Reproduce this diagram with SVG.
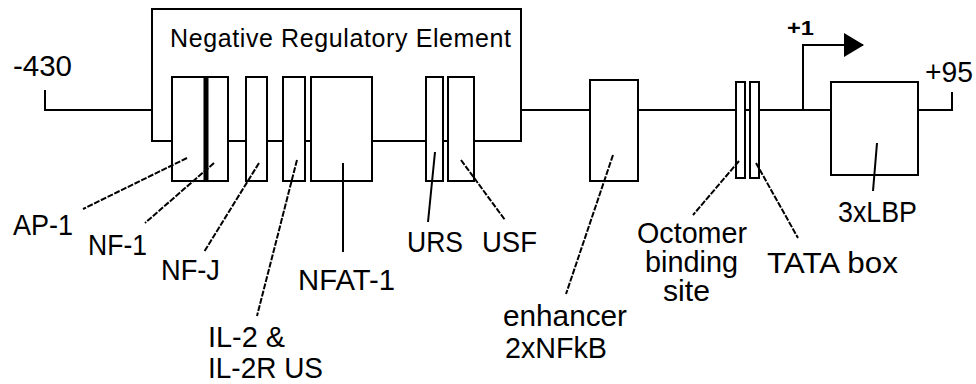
<svg xmlns="http://www.w3.org/2000/svg" width="976" height="384" viewBox="0 0 976 384">
<style>
.ln{fill:none;stroke:#000;stroke-width:2}
.bx{fill:#fff;stroke:#000;stroke-width:2}
.ld{fill:none;stroke:#000;stroke-width:2;stroke-dasharray:6 1.5}
.ls{fill:none;stroke:#000;stroke-width:2}
.t{font-family:"Liberation Sans",Arial,sans-serif;font-size:29px;fill:#000}
.h{font-family:"Liberation Sans",Arial,sans-serif;font-size:25px;fill:#000}
</style>
<defs>
<marker id="ah" markerWidth="20" markerHeight="24" refX="19" refY="12" orient="auto" markerUnits="userSpaceOnUse">
<path d="M0,0 L20,12 L0,24 Z" fill="#000"/>
</marker>
</defs>
<rect width="976" height="384" fill="#fff"/>
<g id="dna">
<path class="ln" d="M45,90 V110 H152"/>
<path class="ln" d="M172,141 H152 V9 H521 V141 H474"/>
<path class="ln" d="M228,141 H246 M267,141 H283 M305,141 H311 M372,141 H426 M443,141 H448"/>
<path class="ln" d="M521,110 H590 M638,110 H736 M745,110 H749 M759,110 H831 M918,110 H952 V92"/>
</g>
<g id="nre-label"><text class="h" x="170" y="47" textLength="341" lengthAdjust="spacing">Negative Regulatory Element</text></g>
<g id="start-label"><text class="t" x="13" y="76" textLength="59" lengthAdjust="spacingAndGlyphs">-430</text></g>
<g id="end-label"><text class="t" x="925" y="82" textLength="48" lengthAdjust="spacingAndGlyphs">+95</text></g>
<g id="tss">
<path class="ln" d="M803,110 V45 H863" marker-end="url(#ah)"/>
<text class="t" x="787" y="35" style="font-size:21px;font-weight:bold" textLength="27" lengthAdjust="spacingAndGlyphs">+1</text>
</g>
<g id="ap1-nf1">
<rect class="bx" x="172" y="77" width="56" height="104"/>
<rect x="203.5" y="77" width="5" height="104" fill="#000"/>
</g>
<g id="nfj"><rect class="bx" x="246" y="77" width="21" height="104"/></g>
<g id="il2"><rect class="bx" x="283" y="77" width="22" height="104"/></g>
<g id="nfat"><rect class="bx" x="311" y="77" width="61" height="104"/></g>
<g id="urs"><rect class="bx" x="426" y="77" width="17" height="104"/></g>
<g id="usf"><rect class="bx" x="448" y="77" width="26" height="104"/></g>
<g id="enhancer"><rect class="bx" x="590" y="80" width="48" height="101"/></g>
<g id="octomer"><rect class="bx" x="736" y="82" width="9" height="96"/></g>
<g id="tata"><rect class="bx" x="750" y="82" width="9" height="96"/></g>
<g id="lbp"><rect class="bx" x="831" y="82" width="87" height="93"/></g>
<g id="connectors">
<line class="ld" x1="187" y1="158" x2="83" y2="209"/>
<line class="ld" x1="214" y1="163" x2="145" y2="223"/>
<line class="ld" x1="259" y1="163" x2="204" y2="252"/>
<line class="ld" x1="297" y1="160" x2="257" y2="316"/>
<line class="ls" x1="343" y1="163" x2="343" y2="252"/>
<line class="ls" x1="435" y1="152" x2="428" y2="222"/>
<line class="ld" x1="461" y1="160" x2="505" y2="220"/>
<line class="ld" x1="613" y1="155" x2="566" y2="294"/>
<line class="ld" x1="739" y1="161" x2="693" y2="215"/>
<line class="ld" x1="756" y1="163" x2="798" y2="238"/>
<line class="ls" x1="877" y1="143" x2="873" y2="191"/>
</g>
<g id="labels">
<text class="t" x="13" y="235" textLength="60" lengthAdjust="spacingAndGlyphs">AP-1</text>
<text class="t" x="88" y="255" textLength="59" lengthAdjust="spacingAndGlyphs">NF-1</text>
<text class="t" x="161" y="280" textLength="59" lengthAdjust="spacingAndGlyphs">NF-J</text>
<text class="t" x="298" y="290" textLength="97" lengthAdjust="spacingAndGlyphs">NFAT-1</text>
<text class="t" x="208" y="347" textLength="77" lengthAdjust="spacingAndGlyphs">IL-2 &amp;</text>
<text class="t" x="208" y="378" textLength="115" lengthAdjust="spacingAndGlyphs">IL-2R US</text>
<text class="t" x="407" y="252" textLength="56" lengthAdjust="spacingAndGlyphs">URS</text>
<text class="t" x="482" y="252" textLength="55" lengthAdjust="spacingAndGlyphs">USF</text>
<text class="t" x="503" y="326" textLength="124" lengthAdjust="spacingAndGlyphs">enhancer</text>
<text class="t" x="505" y="358" textLength="102" lengthAdjust="spacingAndGlyphs">2xNFkB</text>
<text class="t" x="637" y="243" textLength="110" lengthAdjust="spacingAndGlyphs">Octomer</text>
<text class="t" x="645" y="272" textLength="93" lengthAdjust="spacingAndGlyphs">binding</text>
<text class="t" x="663" y="301" textLength="47" lengthAdjust="spacingAndGlyphs">site</text>
<text class="t" x="767" y="273" textLength="131" lengthAdjust="spacingAndGlyphs">TATA box</text>
<text class="t" x="838" y="222" textLength="79" lengthAdjust="spacingAndGlyphs">3xLBP</text>
</g>
</svg>
